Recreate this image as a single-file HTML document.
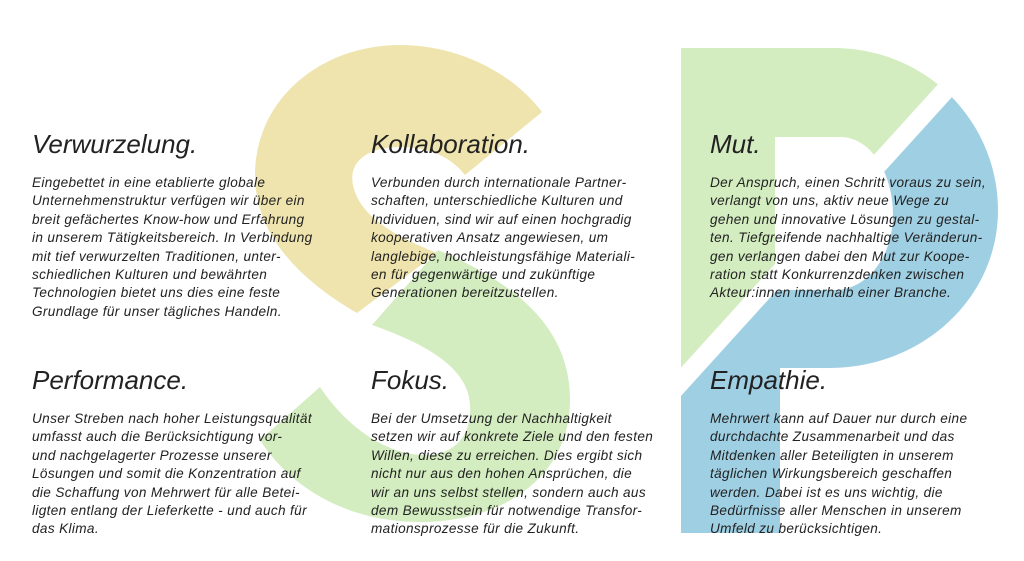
<!DOCTYPE html>
<html><head><meta charset="utf-8"><style>
html,body{margin:0;padding:0;background:#fff;}
#c{position:relative;width:1024px;height:561px;overflow:hidden;font-family:"Liberation Sans",sans-serif;color:#1e1e1e;}
svg{position:absolute;left:0;top:0;}
.h{position:absolute;font-size:26px;line-height:27px;font-style:italic;font-weight:normal;white-space:nowrap;color:#222;}
.b{position:absolute;font-size:13.6px;line-height:18.4px;font-style:italic;white-space:nowrap;letter-spacing:0.35px;color:#222;}
</style></head><body><div id="c">
<svg width="1024" height="561" viewBox="0 0 1024 561">
<defs>
<clipPath id="above"><polygon points="0,0 1024,0 1024,0 942,94 681,382 0,1100"/></clipPath>
<clipPath id="below"><polygon points="1024,0 1024,561 0,561 0,1100 681,382 942,94"/></clipPath>
</defs>
<!-- S yellow -->
<path fill="#efe4ae" d="M542,112 C510,70 455,45 400,45 C320,45 255,100 255,175 C255,235 300,280 357,313 L437,253 C405,240 360,220 353,185 C348,160 370,147 400,147 C430,147 452,158 465,175 Z"/>
<!-- S green -->
<path fill="#d3edc0" d="M372,325 L438,250 C520,285 570,330 570,400 C570,475 505,522 420,522 C350,522 292,490 260,440 L320,387 C345,425 385,455 425,455 C455,455 472,435 470,405 C468,365 420,342 372,325 Z"/>
<!-- P -->
<g fill-rule="evenodd">
<path clip-path="url(#above)" fill="#d3edc0" d="M681,48 H833 C930,48 998,125 998,210 C998,300 920,368 830,368 H780 V533 H681 Z M775,137 H840 C872,137 893,175 893,215 C893,255 868,290 835,290 H775 Z"/>
<path clip-path="url(#below)" fill="#9fcfe3" d="M681,48 H833 C930,48 998,125 998,210 C998,300 920,368 830,368 H780 V533 H681 Z M775,137 H840 C872,137 893,175 893,215 C893,255 868,290 835,290 H775 Z"/>
</g>
<line x1="990" y1="41" x2="640" y2="427" stroke="#fff" stroke-width="19"/>
</svg>

<div class="h" style="left:32px;top:131px">Verwurzelung.</div>
<div class="b" style="left:32px;top:174px">Eingebettet in eine etablierte globale<br>Unternehmenstruktur verfügen wir über ein<br>breit gefächertes Know-how und Erfahrung<br>in unserem Tätigkeitsbereich. In Verbindung<br>mit tief verwurzelten Traditionen, unter-<br>schiedlichen Kulturen und bewährten<br>Technologien bietet uns dies eine feste<br>Grundlage für unser tägliches Handeln.</div>

<div class="h" style="left:371px;top:131px">Kollaboration.</div>
<div class="b" style="left:371px;top:174px">Verbunden durch internationale Partner-<br>schaften, unterschiedliche Kulturen und<br>Individuen, sind wir auf einen hochgradig<br>kooperativen Ansatz angewiesen, um<br>langlebige, hochleistungsfähige Materiali-<br>en für gegenwärtige und zukünftige<br>Generationen bereitzustellen.</div>

<div class="h" style="left:710px;top:131px">Mut.</div>
<div class="b" style="left:710px;top:174px">Der Anspruch, einen Schritt voraus zu sein,<br>verlangt von uns, aktiv neue Wege zu<br>gehen und innovative Lösungen zu gestal-<br>ten. Tiefgreifende nachhaltige Veränderun-<br>gen verlangen dabei den Mut zur Koope-<br>ration statt Konkurrenzdenken zwischen<br>Akteur:innen innerhalb einer Branche.</div>

<div class="h" style="left:32px;top:367px">Performance.</div>
<div class="b" style="left:32px;top:410px">Unser Streben nach hoher Leistungsqualität<br>umfasst auch die Berücksichtigung vor-<br>und nachgelagerter Prozesse unserer<br>Lösungen und somit die Konzentration auf<br>die Schaffung von Mehrwert für alle Betei-<br>ligten entlang der Lieferkette - und auch für<br>das Klima.</div>

<div class="h" style="left:371px;top:367px">Fokus.</div>
<div class="b" style="left:371px;top:410px">Bei der Umsetzung der Nachhaltigkeit<br>setzen wir auf konkrete Ziele und den festen<br>Willen, diese zu erreichen. Dies ergibt sich<br>nicht nur aus den hohen Ansprüchen, die<br>wir an uns selbst stellen, sondern auch aus<br>dem Bewusstsein für notwendige Transfor-<br>mationsprozesse für die Zukunft.</div>

<div class="h" style="left:710px;top:367px">Empathie.</div>
<div class="b" style="left:710px;top:410px">Mehrwert kann auf Dauer nur durch eine<br>durchdachte Zusammenarbeit und das<br>Mitdenken aller Beteiligten in unserem<br>täglichen Wirkungsbereich geschaffen<br>werden. Dabei ist es uns wichtig, die<br>Bedürfnisse aller Menschen in unserem<br>Umfeld zu berücksichtigen.</div>
</div></body></html>
